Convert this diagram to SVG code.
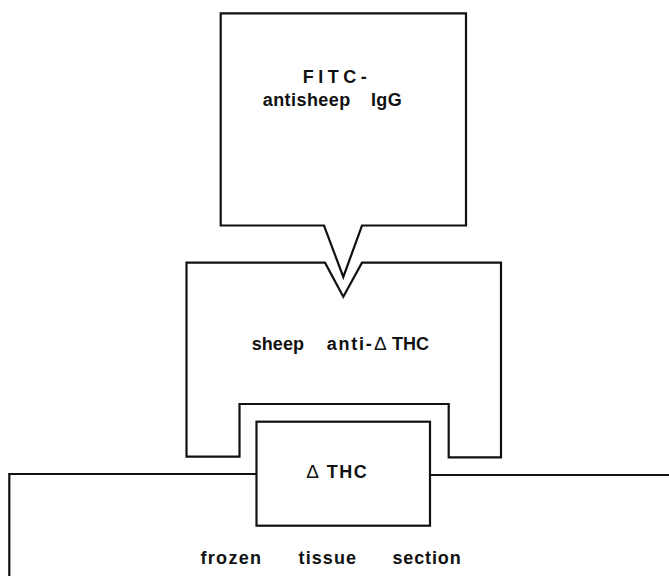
<svg xmlns="http://www.w3.org/2000/svg" width="669" height="576" viewBox="0 0 669 576">
<style>
.sh{fill:#fff;stroke:#111;stroke-width:2.2;stroke-linejoin:miter}
.ln{fill:none;stroke:#111;stroke-width:2.2}
.t{font-family:"Liberation Sans",Arial,sans-serif;font-weight:bold;font-size:18px;fill:#111}
.d{font-weight:normal;font-size:19px}
</style>
<rect width="669" height="576" fill="#fff"/>
<g id="fitc-antisheep-igg">
<path class="sh" d="M220.7,13.3 H466 V225.5 H362 L343.3,277 L324,225.5 H220.7 Z"/>
<text class="t" x="302.7" y="83.3" textLength="64" lengthAdjust="spacing">FITC-</text>
<text class="t" y="106"><tspan x="262.7" textLength="87.5" lengthAdjust="spacing">antisheep</tspan><tspan x="371" textLength="30.7" lengthAdjust="spacing">IgG</tspan></text>
</g>
<g id="sheep-anti-thc">
<path class="sh" d="M186.5,262.7 H325 L343.3,296.7 L362,262.7 H501 V457.3 H448.7 V404 H239.5 V456.7 H186.5 Z"/>
<text class="t" y="350"><tspan x="251.7" textLength="52.3" lengthAdjust="spacing">sheep</tspan><tspan x="326.7" textLength="45" lengthAdjust="spacing">anti-</tspan><tspan class="d" x="374">Δ</tspan><tspan x="392">THC</tspan></text>
</g>
<g id="tissue-section">
<path class="ln" d="M256.5,474 H9.3 V576"/>
<path class="ln" d="M430,475 H669"/>
<text class="t" y="564"><tspan x="200.5" textLength="60.5" lengthAdjust="spacing">frozen</tspan><tspan x="298.6" textLength="57.4" lengthAdjust="spacing">tissue</tspan><tspan x="392.5" textLength="68.2" lengthAdjust="spacing">section</tspan></text>
</g>
<g id="thc">
<rect class="sh" x="256.5" y="421.7" width="173.5" height="104"/>
<text class="t" y="478.3"><tspan class="d" x="306.2">Δ</tspan><tspan x="326.7" textLength="40" lengthAdjust="spacing">THC</tspan></text>
</g>
</svg>
